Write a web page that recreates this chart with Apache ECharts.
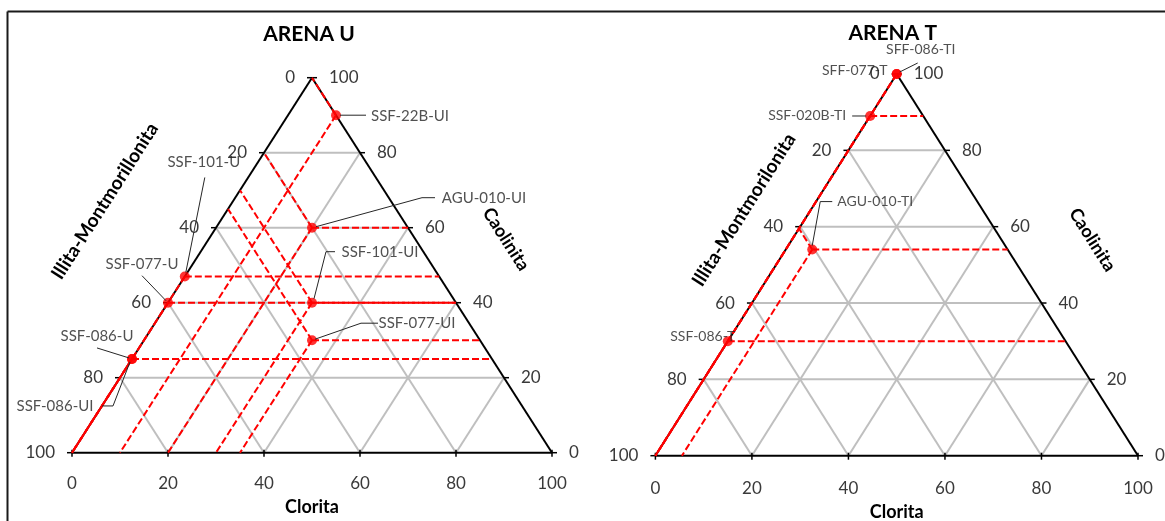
<!DOCTYPE html>
<html>
<head>
<meta charset="utf-8">
<script src="https://cdn.jsdelivr.net/npm/echarts@6/dist/echarts.min.js"></script>
<style>
  html, body { margin: 0; padding: 0; background: #ffffff; }
  #chart { width: 1165px; height: 521px; }
</style>
</head>
<body>
<div id="chart"></div>
<script>
// Ternary clay composition (%): Clorita and Caolinita are given,
// Illita-Montmorillonita is the remainder (100 - Clorita - Caolinita).
const TICKS = [0, 20, 40, 60, 80, 100];

// ARENA U samples
const uNames = ['SSF-22B-UI', 'AGU-010-UI', 'SSF-101-UI', 'SSF-077-UI', 'SSF-101-U', 'SSF-077-U', 'SSF-086-U', 'SSF-086-UI'];
const uClorita = [10, 20, 30, 35, 0, 0, 0, 0];
const uCaolinita = [90, 60, 40, 30, 47, 40, 25, 25];

// ARENA T samples
const tNames = ['SFF-086-TI', 'SFF-077-T', 'SSF-020B-TI', 'AGU-010-TI', 'SSF-086-T'];
const tClorita = [0, 0, 0, 5.5, 0];
const tCaolinita = [100, 100, 89, 54, 30];

// Label placement per sample: label centre offset from the marker (px)
// and the leader polyline, as pixel offsets from the marker
const uLabelPlacement = {
  'SSF-22B-UI': { at: [74, 1], leader: [[4, 0], [30, 0]] },
  'AGU-010-UI': { at: [172, -30], leader: [[4, -1], [110, -30], [123, -30]] },
  'SSF-101-UI': { at: [68, -51], leader: [[2, -4], [14, -51], [23, -51]] },
  'SSF-077-UI': { at: [105, -17], leader: [[3, -1], [49, -17], [66, -17]] },
  'SSF-101-U': { at: [19, -114], leader: [[1, -4], [20, -99]] },
  'SSF-077-U': { at: [-26, -39], leader: [[-2, -2], [-26, -27]] },
  'SSF-086-U': { at: [-35, -23], leader: [[-3, -1], [-35, -11]] },
  'SSF-086-UI': { at: [-77, 47], leader: [[-2, 3], [-19, 47], [-30, 47]] }
};
const tLabelPlacement = {
  'SFF-086-TI': { at: [24, -25], leader: [[3, -2], [21, -11]] },
  'SFF-077-T': { at: [-42, -4], leader: [] },
  'SSF-020B-TI': { at: [-63, -1], leader: [[-4, 0], [-18, 0]] },
  'AGU-010-TI': { at: [63, -48], leader: [[0, -4], [8, -48], [20, -48]] },
  'SSF-086-T': { at: [-25, -4.5], leader: [] }
};

const FONT = 'Lato, "Open Sans", "DejaVu Sans", sans-serif';
const TEXT = '#3a3a3a';
const LABEL_TEXT = '#262626';

// ternary (Clorita, Caolinita) -> plane coordinates of the axis system
const toXY = (cl, ca) => [cl + ca / 2, ca];

function frameSeries(idx, cfg) {
  return {
    type: 'custom',
    xAxisIndex: idx, yAxisIndex: idx,
    coordinateSystem: 'cartesian2d',
    clip: false,
    silent: true,
    z: 1,
    data: [[0, 0]],
    renderItem: function (params, api) {
      const P = (cl, ca) => api.coord(toXY(cl, ca));
      const kids = [];
      const seg = (a, b, style) => kids.push({
        type: 'line', shape: { x1: a[0], y1: a[1], x2: b[0], y2: b[1] }, style: style
      });
      const gray = { stroke: '#BFBFBF', lineWidth: 2 };
      const black = { stroke: '#000000', lineWidth: 2 };
      const tick = { stroke: '#000000', lineWidth: 1.5 };
      const inner = TICKS.slice(1, -1);
      inner.forEach(function (t) {
        seg(P(0, t), P(100 - t, t), gray);       // constant Caolinita
        seg(P(t, 0), P(t, 100 - t), gray);       // constant Clorita
        seg(P(0, 100 - t), P(100 - t, 0), gray); // constant Illita
      });
      const apex = P(0, 100), bl = P(0, 0), br = P(100, 0);
      seg(bl, br, black);
      seg(bl, apex, black);
      seg(apex, br, black);

      const txt = (x, y, s, align, extra) => kids.push({
        type: 'text', x: x, y: y,
        style: Object.assign({
          text: s, fontFamily: FONT, fontSize: 17, fill: TEXT,
          align: align, verticalAlign: 'middle'
        }, extra || {})
      });

      TICKS.forEach(function (v) {
        // Illita-Montmorillonita along the left edge (0 at the apex)
        const l = P(0, 100 - v);
        seg([l[0] - 5, l[1]], l, tick);
        txt(l[0] - cfg.tickGap, l[1], String(v), 'right');
        // Caolinita along the right edge (100 at the apex)
        const r = P(100 - v, v);
        seg(r, [r[0] + 5, r[1]], tick);
        txt(r[0] + cfg.tickGap, r[1], String(v), 'left');
        // Clorita along the base
        const b = P(v, 0);
        seg([b[0], b[1] - 3], [b[0], b[1] + 4], tick);
      });

      // title
      txt(apex[0] + cfg.title[1], apex[1] + cfg.title[2], cfg.title[0], 'center',
        { fontSize: 21, fontWeight: 'bold', fill: '#000000' });
      // left axis name
      const lm = P(0, 50);
      kids.push({
        type: 'text', x: lm[0] + cfg.leftName[1], y: lm[1] + cfg.leftName[2],
        rotation: cfg.angle,
        style: { text: cfg.leftName[0], fontFamily: FONT, fontSize: 19, fontWeight: 'bold',
          fill: '#000000', align: 'center', verticalAlign: 'middle' }
      });
      // right axis name
      const rm = P(50, 50);
      kids.push({
        type: 'text', x: rm[0] + cfg.rightName[1], y: rm[1] + cfg.rightName[2],
        rotation: -cfg.angle,
        style: { text: cfg.rightName[0], fontFamily: FONT, fontSize: 18, fontWeight: 'bold',
          fill: '#000000', align: 'center', verticalAlign: 'middle' }
      });
      return { type: 'group', children: kids };
    }
  };
}

// guide lines from each sample to the three axes
function guideSegments(clorita, caolinita) {
  const out = [];
  clorita.forEach(function (cl, i) {
    const ca = caolinita[i];
    const il = 100 - cl - ca;
    const p = toXY(cl, ca);
    const ends = [
      toXY(100 - ca, ca),   // to Caolinita axis (right edge)
      toXY(0, 100 - il),    // to Illita-Montmorillonita axis (left edge)
      toXY(cl, 0)           // to Clorita axis (base)
    ];
    ends.forEach(function (e) {
      if (Math.abs(e[0] - p[0]) + Math.abs(e[1] - p[1]) > 1e-6) {
        out.push([p[0], p[1], e[0], e[1]]);
      }
    });
  });
  return out;
}

function guideSeries(idx, clorita, caolinita) {
  return {
    type: 'custom',
    xAxisIndex: idx, yAxisIndex: idx,
    coordinateSystem: 'cartesian2d',
    clip: false,
    silent: true,
    z: 2,
    encode: { x: [0, 2], y: [1, 3] },
    data: guideSegments(clorita, caolinita),
    renderItem: function (params, api) {
      const a = api.coord([api.value(0), api.value(1)]);
      const b = api.coord([api.value(2), api.value(3)]);
      return {
        type: 'line',
        shape: { x1: a[0], y1: a[1], x2: b[0], y2: b[1] },
        style: { stroke: '#FF0000', lineWidth: 2, lineDash: [7, 3] }
      };
    }
  };
}

// thin leader lines joining each label to its marker
function leaderSeries(idx, names, clorita, caolinita, placement) {
  return {
    type: 'custom',
    xAxisIndex: idx, yAxisIndex: idx,
    coordinateSystem: 'cartesian2d',
    clip: false,
    silent: true,
    z: 4,
    data: names.map(function (n, i) { return toXY(clorita[i], caolinita[i]); }),
    renderItem: function (params, api) {
      const c = api.coord([api.value(0), api.value(1)]);
      const path = placement[names[params.dataIndex]].leader;
      if (!path.length) return null;
      return {
        type: 'polyline',
        shape: { points: path.map(function (o) { return [c[0] + o[0], c[1] + o[1]]; }) },
        style: { stroke: '#262626', lineWidth: 1, fill: null }
      };
    }
  };
}

function sampleSeries(idx, names, clorita, caolinita, placement, fontSize) {
  return {
    type: 'scatter',
    xAxisIndex: idx, yAxisIndex: idx,
    z: 3,
    symbol: 'circle',
    symbolSize: 10,
    itemStyle: { color: '#FF0000' },
    silent: true,
    data: names.map(function (n, i) {
      const pl = placement[n];
      return {
        name: n,
        value: toXY(clorita[i], caolinita[i]),
        label: {
          show: true, position: 'inside', offset: pl.at,
          formatter: '{b}', fontFamily: FONT, fontSize: fontSize, color: LABEL_TEXT,
          textBorderWidth: 0
        }
      };
    })
  };
}

function xAxisFor(idx, margin, nameGap) {
  return {
    gridIndex: idx, type: 'value', min: 0, max: 100, interval: 20,
    axisLine: { show: false }, axisTick: { show: false }, splitLine: { show: false },
    axisLabel: { margin: margin, fontFamily: FONT, fontSize: 17, color: TEXT,
      showMinLabel: true, showMaxLabel: true },
    name: 'Clorita', nameLocation: 'middle', nameGap: nameGap,
    nameTextStyle: { fontFamily: FONT, fontSize: 18, fontWeight: 'bold', color: '#000000' }
  };
}

const chart = echarts.init(document.getElementById('chart'));
chart.setOption({
  animation: false,
  backgroundColor: '#ffffff',
  textStyle: { fontFamily: FONT },
  grid: [
    { left: 72, top: 77.7, width: 480, height: 375, outerBoundsMode: 'none' },
    { left: 655.4, top: 74, width: 482.6, height: 381.7, outerBoundsMode: 'none' }
  ],
  xAxis: [xAxisFor(0, 22, 45), xAxisFor(1, 24, 47)],
  yAxis: [
    { gridIndex: 0, type: 'value', min: 0, max: 100, show: false },
    { gridIndex: 1, type: 'value', min: 0, max: 100, show: false }
  ],
  graphic: [
    { type: 'line', shape: { x1: 7.5, y1: 11.5, x2: 1165, y2: 11.5 }, style: { stroke: '#1a1a1a', lineWidth: 2 } },
    { type: 'line', shape: { x1: 7.5, y1: 11.5, x2: 7.5, y2: 521 }, style: { stroke: '#1a1a1a', lineWidth: 2 } }
  ],
  series: [
    frameSeries(0, { tickGap: 17, angle: 57.4 * Math.PI / 180,
      title: ['ARENA U', -3, -43],
      leftName: ['Illita-Montmorillonita', -87, -64],
      rightName: ['Caolinita', 74, -26] }),
    guideSeries(0, uClorita, uCaolinita),
    sampleSeries(0, uNames, uClorita, uCaolinita, uLabelPlacement, 15),
    leaderSeries(0, uNames, uClorita, uCaolinita, uLabelPlacement),
    frameSeries(1, { tickGap: 17, angle: 57.7 * Math.PI / 180,
      title: ['ARENA T', -4, -41],
      leftName: ['Illita-Montmorilonita', -32, -55],
      rightName: ['Caolinita', 75, -25] }),
    guideSeries(1, tClorita, tCaolinita),
    sampleSeries(1, tNames, tClorita, tCaolinita, tLabelPlacement, 14),
    leaderSeries(1, tNames, tClorita, tCaolinita, tLabelPlacement)
  ]
});
</script>
</body>
</html>
